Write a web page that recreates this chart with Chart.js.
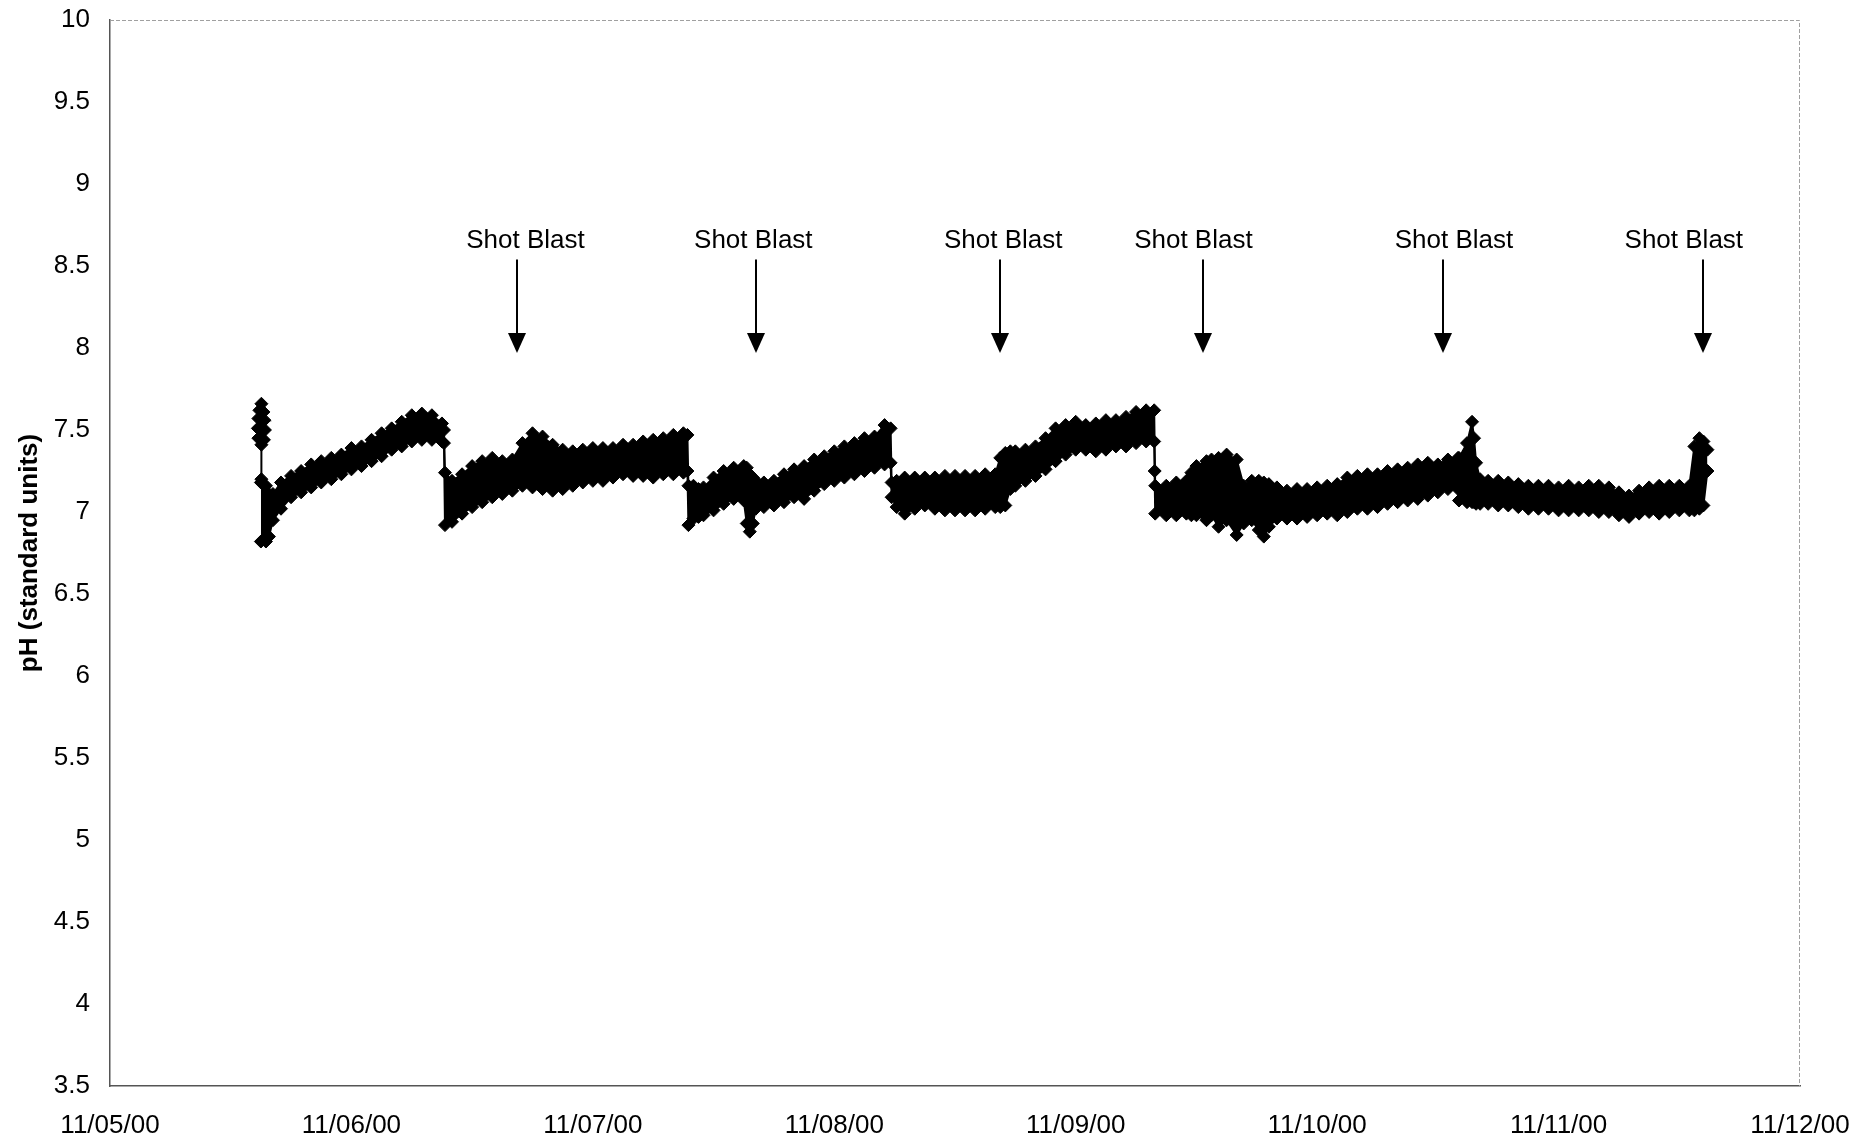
<!DOCTYPE html>
<html>
<head>
<meta charset="utf-8">
<script src="https://cdn.jsdelivr.net/npm/chart.js@4.4.1/dist/chart.umd.min.js"></script>
<style>
    html, body { margin: 0; padding: 0; background: #fff; }
    #wrap { width: 1876px; height: 1141px; }
</style>
</head>
<body>
<div id="wrap"><canvas id="phChart" width="1876" height="1141"></canvas></div>
<script>
// x axis runs in hours from 11/05/00 00:00, one tick per day
const dateLabels = ['11/05/00', '11/06/00', '11/07/00', '11/08/00', '11/09/00', '11/10/00', '11/11/00', '11/12/00'];

const hours = [
    15.0, 15.5, 15.8, 16.2, 17, 18, 19, 20, 21, 22, 23, 24, 25, 26, 27, 28, 29, 30, 31, 32, 33, 33.2,
    33.3, 34, 35, 36, 37, 38, 39, 40, 41, 42, 43, 44, 45, 46, 47, 48, 49, 50, 51, 52, 53, 54, 55, 56, 57, 57.4,
    57.5, 58, 58.5, 59, 60, 61, 62, 63, 63.3, 63.6, 63.9, 64.2, 65, 66, 67, 68, 69, 70, 71, 72, 73, 74, 75, 76, 77, 77.6,
    77.7, 78.2, 79, 80, 81, 82, 83, 84, 85, 86, 87, 88, 88.5, 89, 89.5, 90, 91, 92, 93, 94, 95, 96, 97, 98, 99, 100, 101, 102, 103, 103.8,
    103.9, 105, 106, 107, 107.5, 108, 109, 109.5, 110.2, 111, 112, 112.7, 113.5, 114.2, 114.7, 115.2, 116, 117, 118, 119, 120,
    121, 122, 123, 124, 125, 126, 127, 128, 129, 130, 131, 132, 133, 134,
    134.1, 134.9, 135.4, 135.6, 135.8, 136.2, 137, 138, 139, 140, 141, 142, 143, 144, 145, 146, 147, 148, 149, 150,
    151, 152, 153, 154, 155, 156, 157, 157.5, 158.0, 158.4, 158.8
];
const phHigh = [
    7.18, 7.16, 7.11, 7.11, 7.18, 7.22, 7.25, 7.29, 7.31, 7.33, 7.35, 7.39, 7.40, 7.44, 7.48, 7.51, 7.55, 7.59, 7.60, 7.59, 7.54, 7.50,
    7.24, 7.19, 7.23, 7.28, 7.31, 7.33, 7.31, 7.32, 7.42, 7.48, 7.46, 7.41, 7.38, 7.37, 7.38, 7.39, 7.39, 7.39, 7.41, 7.41, 7.43, 7.44, 7.45, 7.47, 7.48, 7.47,
    7.16, 7.16, 7.14, 7.15, 7.21, 7.25, 7.27, 7.28, 7.27, 7.23, 7.21, 7.19, 7.18, 7.19, 7.23, 7.26, 7.28, 7.32, 7.34, 7.37, 7.40, 7.42, 7.45, 7.46, 7.53, 7.51,
    7.18, 7.19, 7.21, 7.21, 7.21, 7.21, 7.22, 7.22, 7.22, 7.22, 7.23, 7.23, 7.33, 7.36, 7.37, 7.37, 7.38, 7.40, 7.45, 7.51, 7.53, 7.55, 7.53, 7.54, 7.56, 7.56, 7.58, 7.61, 7.62, 7.62,
    7.16, 7.16, 7.18, 7.19, 7.24, 7.28, 7.31, 7.32, 7.33, 7.35, 7.32, 7.16, 7.19, 7.19, 7.18, 7.17, 7.15, 7.13, 7.14, 7.14, 7.15,
    7.16, 7.17, 7.21, 7.22, 7.23, 7.23, 7.25, 7.26, 7.27, 7.29, 7.30, 7.29, 7.32, 7.33,
    7.33, 7.42, 7.55, 7.45, 7.30, 7.20, 7.19, 7.19, 7.18, 7.17, 7.16, 7.16, 7.16, 7.15, 7.16, 7.15, 7.16, 7.16, 7.15, 7.12,
    7.10, 7.13, 7.15, 7.16, 7.16, 7.16, 7.16, 7.40, 7.45, 7.43, 7.38
];
const phLow = [
    6.82, 6.82, 6.85, 6.95, 7.02, 7.09, 7.12, 7.15, 7.18, 7.20, 7.23, 7.26, 7.28, 7.31, 7.34, 7.38, 7.40, 7.43, 7.44, 7.44, 7.43, 7.42,
    6.92, 6.94, 6.99, 7.03, 7.06, 7.09, 7.11, 7.13, 7.16, 7.15, 7.14, 7.13, 7.14, 7.16, 7.18, 7.19, 7.19, 7.21, 7.23, 7.22, 7.22, 7.21, 7.23, 7.23, 7.24, 7.25,
    6.92, 6.96, 6.97, 6.98, 7.01, 7.05, 7.08, 7.07, 6.93, 6.88, 6.93, 7.02, 7.03, 7.04, 7.06, 7.09, 7.08, 7.13, 7.17, 7.19, 7.21, 7.23, 7.25, 7.27, 7.29, 7.30,
    7.09, 7.03, 6.99, 7.02, 7.04, 7.02, 7.01, 7.01, 7.01, 7.01, 7.02, 7.03, 7.03, 7.04, 7.14, 7.16, 7.19, 7.22, 7.26, 7.31, 7.35, 7.38, 7.38, 7.37, 7.38, 7.40, 7.40, 7.42, 7.43, 7.43,
    6.99, 6.98, 6.98, 6.99, 6.98, 6.98, 6.95, 6.98, 6.91, 6.95, 6.86, 6.93, 6.95, 6.89, 6.85, 6.91, 6.96, 6.96, 6.96, 6.97, 6.98,
    6.99, 6.98, 7.00, 7.02, 7.02, 7.03, 7.05, 7.06, 7.07, 7.08, 7.10, 7.12, 7.14, 7.14,
    7.07, 7.06, 7.06, 7.06, 7.05, 7.05, 7.05, 7.04, 7.04, 7.03, 7.02, 7.02, 7.02, 7.01, 7.01, 7.01, 7.01, 7.00, 7.00, 6.98,
    6.97, 6.99, 7.00, 6.99, 7.00, 7.01, 7.01, 7.01, 7.02, 7.04, 7.25
];

// single readings that sit outside the band (start-up spike, lone point on 11/09)
const spikeHours = [15.05, 14.85, 15.25, 14.75, 15.35, 15.05, 14.7, 15.4, 15.05, 14.75, 15.3, 15.05, 15.05, 103.85, 103.85];
const spikePh = [7.66, 7.62, 7.61, 7.57, 7.56, 7.56, 7.51, 7.50, 7.49, 7.45, 7.44, 7.41, 7.20, null, 7.25];

// shot blast events: arrow position and label centre, in hours
const shotBlastHours = [40.5, 64.25, 88.5, 108.7, 132.5, 158.4];
const shotLabelHours = [41.3, 63.95, 88.8, 107.7, 133.6, 156.45];

const FONT = '"Liberation Sans", Arial, Helvetica, sans-serif';

function toPoints(xs, ys) {
    return xs.map((x, i) => ({ x: x, y: ys[i] }));
}

const markerStyle = {
    borderColor: '#000',
    borderWidth: 2,
    pointStyle: 'rectRot',
    pointRadius: 6.5,
    pointBackgroundColor: '#000',
    pointBorderColor: '#000',
    pointBorderWidth: 1,
    tension: 0,
};

const framePlugin = {
    id: 'frame',
    beforeDatasetsDraw(chart) {
        const { ctx, chartArea } = chart;
        ctx.save();
        ctx.strokeStyle = '#a0a0a0';
        ctx.lineWidth = 1;
        ctx.setLineDash([4, 2]);
        ctx.beginPath();
        ctx.moveTo(chartArea.left, chartArea.top + 0.5);
        ctx.lineTo(chartArea.right - 0.5, chartArea.top + 0.5);
        ctx.lineTo(chartArea.right - 0.5, chartArea.bottom);
        ctx.stroke();
        ctx.restore();
    }
};

const shotBlastPlugin = {
    id: 'shotBlast',
    afterDatasetsDraw(chart) {
        const { ctx } = chart;
        const xs = chart.scales.x;
        const ys = chart.scales.y;
        ctx.save();
        ctx.fillStyle = '#000';
        ctx.strokeStyle = '#000';
        ctx.font = '26px ' + FONT;
        ctx.textAlign = 'center';
        ctx.textBaseline = 'alphabetic';
        shotLabelHours.forEach(h => {
            ctx.fillText('Shot Blast', xs.getPixelForValue(h), ys.getPixelForValue(8.61));
        });
        shotBlastHours.forEach(h => {
            const x = Math.round(xs.getPixelForValue(h));
            const top = ys.getPixelForValue(8.54);
            const tip = ys.getPixelForValue(7.97);
            ctx.lineWidth = 2;
            ctx.beginPath();
            ctx.moveTo(x, top);
            ctx.lineTo(x, tip - 18);
            ctx.stroke();
            ctx.beginPath();
            ctx.moveTo(x - 9, tip - 20);
            ctx.lineTo(x + 9, tip - 20);
            ctx.lineTo(x, tip);
            ctx.closePath();
            ctx.fill();
        });
        ctx.restore();
    }
};

function init() {
    const ctx = document.getElementById('phChart').getContext('2d');
    new Chart(ctx, {
        type: 'line',
        data: {
            datasets: [
                { label: 'pH high', data: toPoints(hours, phHigh), fill: false, ...markerStyle },
                { label: 'pH low', data: toPoints(hours, phLow), fill: '-1', backgroundColor: '#000', ...markerStyle },
                { label: 'pH spikes', data: toPoints(spikeHours, spikePh), fill: false, spanGaps: false, ...markerStyle },
            ]
        },
        options: {
            responsive: false,
            animation: false,
            layout: { padding: { top: 20, right: 76, bottom: 0, left: 0 } },
            plugins: {
                legend: { display: false },
                tooltip: { enabled: false },
            },
            scales: {
                x: {
                    type: 'linear',
                    min: 0,
                    max: 168,
                    afterFit: (scale) => { scale.height = 55; },
                    grid: { display: false, drawTicks: false },
                    border: { display: true, color: '#555', width: 1.5 },
                    ticks: {
                        stepSize: 24,
                        padding: 24,
                        maxRotation: 0,
                        color: '#000',
                        font: { family: FONT, size: 26 },
                        callback: (v) => dateLabels[Math.round(v / 24)],
                    }
                },
                y: {
                    min: 3.5,
                    max: 10,
                    afterFit: (scale) => {
                        scale.width = 110;
                        // tick padding would otherwise push the plot top down
                        scale.paddingTop = 16;
                        scale.paddingBottom = 16;
                    },
                    grid: { display: false, drawTicks: false },
                    border: { display: true, color: '#555', width: 1.5 },
                    ticks: {
                        stepSize: 0.5,
                        padding: 20,
                        color: '#000',
                        font: { family: FONT, size: 26 },
                        callback: (v) => String(v),
                    },
                    title: {
                        display: true,
                        text: 'pH (standard units)',
                        color: '#000',
                        font: { family: FONT, size: 26, weight: 'bold' },
                        padding: { top: 14, bottom: 0 },
                    }
                }
            }
        },
        plugins: [framePlugin, shotBlastPlugin]
    });
}

document.addEventListener('DOMContentLoaded', init);
</script>
</body>
</html>
